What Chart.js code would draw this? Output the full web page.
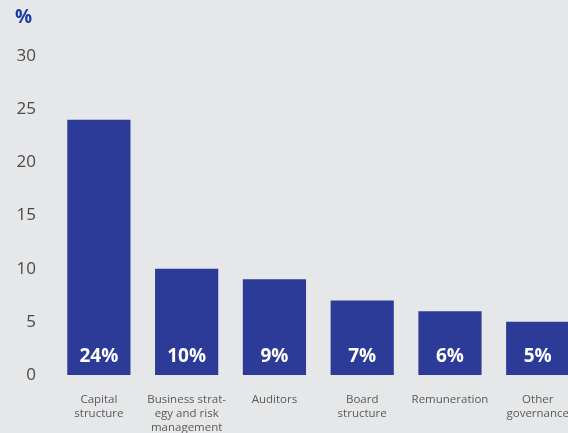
<!DOCTYPE html>
<html>
<head>
<meta charset="utf-8">
<script src="https://cdn.jsdelivr.net/npm/chart.js@4/dist/chart.umd.min.js"></script>
<style>
  html, body { margin: 0; padding: 0; background: #e6e7e9; overflow: hidden; width: 568px; height: 433px; }
  #wrap { position: relative; width: 587px; height: 433px; }
</style>
</head>
<body>
<div id="wrap"><canvas id="c" width="587" height="433"></canvas></div>
<script>
const categories = [
  ["Capital", "structure"],
  ["Business strat-", "egy and risk", "management"],
  ["Auditors"],
  ["Board", "structure"],
  ["Remuneration"],
  ["Other", "governance"]
];
const values = [24, 10, 9, 7, 6, 5];
const valueLabels = ["24%", "10%", "9%", "7%", "6%", "5%"];
const unitLabel = "%";

const FONT = "'Open Sans', 'Noto Sans', sans-serif";

const overlay = {
  id: 'overlay',
  afterDatasetsDraw(chart) {
    const ctx = chart.ctx;
    const meta = chart.getDatasetMeta(0);
    const y0 = chart.scales.y.getPixelForValue(0);
    ctx.save();
    ctx.fillStyle = '#ffffff';
    ctx.font = "bold 19px " + FONT;
    ctx.textAlign = 'center';
    ctx.textBaseline = 'middle';
    meta.data.forEach((bar, i) => {
      ctx.fillText(valueLabels[i], bar.x, y0 - 18);
    });
    ctx.fillStyle = '#1f3ca6';
    ctx.font = "bold 19px " + FONT;
    ctx.textAlign = 'left';
    ctx.fillText(unitLabel, 15, 18);
    ctx.restore();
  }
};

new Chart(document.getElementById('c'), {
  type: 'bar',
  data: {
    labels: categories,
    datasets: [{
      data: values,
      backgroundColor: '#2c3a98',
      borderWidth: 0,
      barPercentage: 0.72,
      categoryPercentage: 1.0
    }]
  },
  options: {
    responsive: false,
    animation: false,
    devicePixelRatio: 1,
    layout: { padding: { top: 56, left: 0, right: 0, bottom: 0 } },
    plugins: { legend: { display: false }, tooltip: { enabled: false } },
    scales: {
      x: {
        grid: { display: false, drawTicks: false },
        border: { display: false },
        ticks: {
          color: '#5a5a5a',
          font: { family: FONT, size: 11.5 },
          padding: 18,
          maxRotation: 0,
          autoSkip: false
        },
        afterFit(scale) { scale.height = 58; }
      },
      y: {
        min: 0, max: 30,
        grid: { display: false, drawTicks: false },
        border: { display: false },
        ticks: {
          stepSize: 5,
          color: '#4a4a4a',
          font: { family: FONT, size: 17 },
          padding: 19
        },
        afterFit(scale) { scale.width = 55; }
      }
    }
  },
  plugins: [overlay]
});
</script>
</body>
</html>
